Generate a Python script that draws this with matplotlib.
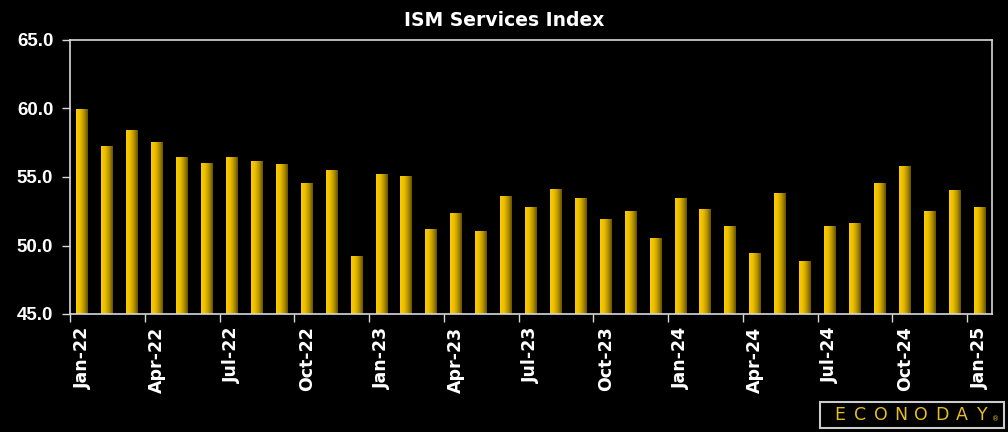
import numpy as np
import matplotlib
matplotlib.use("Agg")
import matplotlib.pyplot as plt
from matplotlib.patches import Rectangle

months = ["Jan-22","Feb-22","Mar-22","Apr-22","May-22","Jun-22","Jul-22","Aug-22","Sep-22","Oct-22","Nov-22","Dec-22",
          "Jan-23","Feb-23","Mar-23","Apr-23","May-23","Jun-23","Jul-23","Aug-23","Sep-23","Oct-23","Nov-23","Dec-23",
          "Jan-24","Feb-24","Mar-24","Apr-24","May-24","Jun-24","Jul-24","Aug-24","Sep-24","Oct-24","Nov-24","Dec-24",
          "Jan-25"]
values = [59.9, 57.2, 58.4, 57.5, 56.4, 56.0, 56.4, 56.1, 55.9, 54.5, 55.5, 49.2,
          55.2, 55.0, 51.2, 52.3, 51.0, 53.6, 52.8, 54.1, 53.4, 51.9, 52.5, 50.5,
          53.4, 52.6, 51.4, 49.4, 53.8, 48.8, 51.4, 51.6, 54.5, 55.8, 52.5, 54.0,
          52.8]
y_ticks = [45.0, 50.0, 55.0, 60.0, 65.0]
title = "ISM Services Index"

fig = plt.figure(figsize=(10.08, 4.32), dpi=100, facecolor="black")
ax = fig.add_axes([70/1008, 1-314/432, (992-70)/1008, (314-40)/432])
ax.set_facecolor("black")

x = np.arange(len(values))
ymin, ymax = y_ticks[0], y_ticks[-1]
bars = ax.bar(x, np.array(values) - ymin, bottom=ymin, width=0.48, color="none", edgecolor="none", zorder=2)

grad_cols = np.array([[0.98, 0.80, 0.0], [0.93, 0.75, 0.0], [0.72, 0.58, 0.0], [0.40, 0.32, 0.0]])
pos = np.linspace(0, 1, len(grad_cols))
t = np.linspace(0, 1, 64)
img = np.stack([np.interp(t, pos, grad_cols[:, k]) for k in range(3)], axis=-1)[None, :, :]
for b in bars:
    x0, y0 = b.get_x(), b.get_y()
    w, h = b.get_width(), b.get_height()
    ax.imshow(img, extent=[x0, x0 + w, y0, y0 + h], aspect="auto", interpolation="bilinear", zorder=2)

ax.set_xlim(-0.5, len(values) - 0.5)
ax.set_ylim(ymin, ymax)

for s in ax.spines.values():
    s.set_color("#d9d9d9")
    s.set_linewidth(1.2)

ax.set_yticks(y_ticks)
ax.set_yticklabels([f"{v:.1f}" for v in y_ticks])
ax.tick_params(axis="y", colors="white", length=6, width=1, pad=6, labelsize=13.5)
for lab in ax.get_yticklabels():
    lab.set_fontweight("bold")
    lab.set_family("Liberation Sans")
    lab.set_color("white")

label_idx = list(range(0, len(values), 3))
ax.set_xticks(label_idx)
ax.set_xticklabels([months[i] for i in label_idx], rotation=90, fontsize=12.5, fontweight="bold", color="white")
ax.tick_params(axis="x", which="major", length=0, pad=9)
ax.set_xticks([i - 0.5 for i in label_idx], minor=True)
ax.tick_params(axis="x", which="minor", length=6, width=1, color="#d9d9d9")
ax.tick_params(axis="y", color="#d9d9d9")

fig.text(504/1008, 1-20/432, title, ha="center", va="center", color="white", fontsize=13.5, fontweight="bold")

# logo
fig.patches.append(Rectangle((820/1008, 1-428/432), (1004-820)/1008, (428-402)/432,
                             transform=fig.transFigure, facecolor="black", edgecolor="#cccccc", linewidth=1.5))
letters = "ECONODAY"
for i, ch in enumerate(letters):
    fig.text((840 + i * 20.3)/1008, 1-415/432, ch, ha="center", va="center", color="#E6BE1E",
             fontsize=12.5, family="DejaVu Sans")
fig.text(996/1008, 1-419/432, "®", ha="center", va="center", color="#E6BE1E", fontsize=5)

fig.savefig("out.png", dpi=100, facecolor="black")
